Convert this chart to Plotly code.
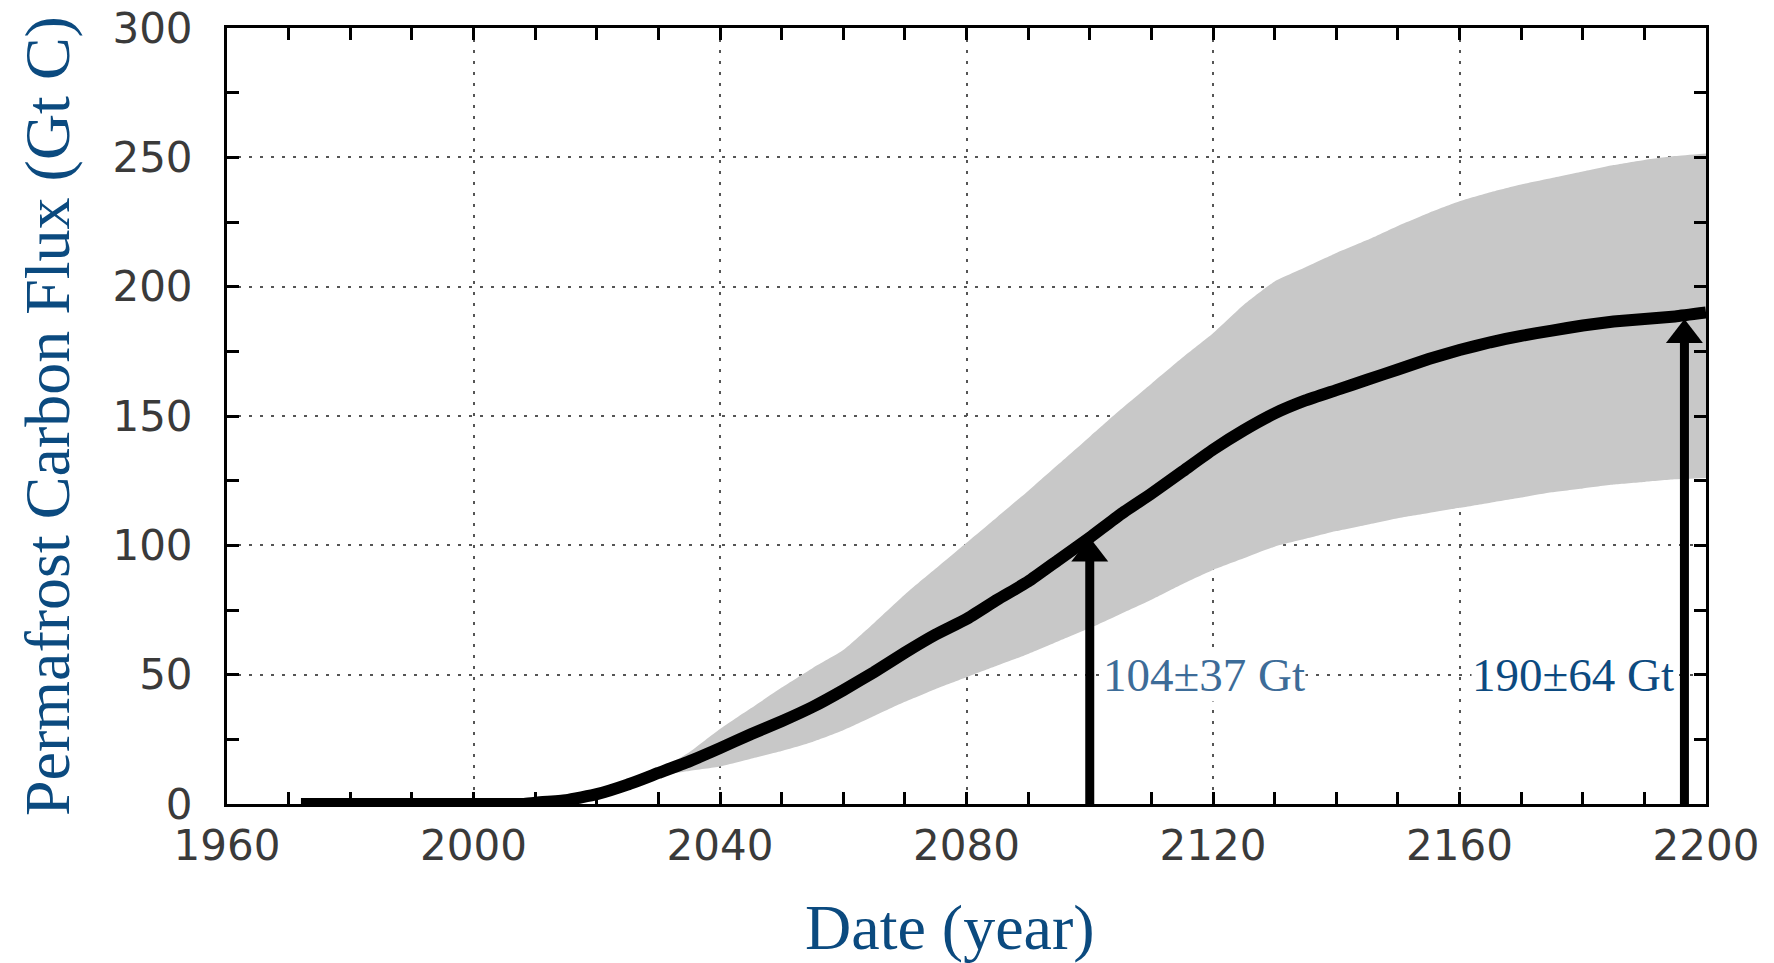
import plotly.graph_objects as go
import numpy as np

# ---- data ----
mean_years = [1972, 1980, 1990, 2000, 2008, 2010, 2015, 2020, 2025, 2030, 2035, 2040,
              2045, 2050, 2055, 2060, 2065, 2070, 2075, 2080, 2085, 2090, 2095, 2100,
              2105, 2110, 2115, 2120, 2125, 2130, 2135, 2140, 2145, 2150, 2155, 2160,
              2165, 2170, 2175, 2180, 2185, 2190, 2195, 2200]
mean_flux = [0, 0, 0, 0, 0, 0.5, 1.5, 3.8, 7.5, 12, 16.5, 21.6,
             27, 32, 37.5, 44, 51, 58.5, 65.5, 71.5, 79, 86, 94.5, 103,
             112, 120, 128.5, 137, 144.5, 151, 156, 160, 164, 168, 172, 175.5,
             178.5, 181, 183, 185, 186.5, 187.5, 188.5, 190]

band_years = [2025, 2030, 2035, 2040, 2045, 2050, 2055, 2060, 2065, 2070, 2075, 2080,
              2085, 2090, 2095, 2100, 2105, 2110, 2115, 2120, 2125, 2130, 2135, 2140,
              2145, 2150, 2155, 2160, 2165, 2170, 2175, 2180, 2185, 2190, 2195, 2200]
band_upper = [7.5, 13, 20, 29, 37, 45, 52.5, 59.5, 70, 81, 91, 101,
              111, 121, 131.5, 142, 152.5, 162.5, 172.5, 182, 193, 202, 207.5, 213,
              218, 223.5, 228.5, 233, 236.5, 239.5, 242, 244.5, 247, 249, 250.5, 251.5]
band_lower = [7.5, 11, 12.8, 14.5, 17.5, 20.5, 24, 28.5, 34, 39.5, 44.5, 49,
              53.5, 58, 63, 68, 73.5, 79, 85, 90.5, 95, 99.5, 102.5, 105.5,
              108, 110.5, 112.5, 114.5, 116.5, 118.5, 120.5, 122, 123.5, 124.5, 125.5, 126]

arrow_years = [2100, 2196.5]
arrow_tips = [103, 187.5]
arrow_labels = ["104±37 Gt", "190±64 Gt"]
label_x = [2102, 2195]
label_y = [50, 50]
label_colors = ["#3d6c98", "#0c4a80"]

x_ticks = [1960, 2000, 2040, 2080, 2120, 2160, 2200]
y_ticks = [0, 50, 100, 150, 200, 250, 300]

# ---- layout geometry ----
W, H = 1774, 963
ML, MR, MT, MB = 227, 68, 28, 159
plot_h = H - MT - MB
px_per_unit = plot_h / 300.0
tri_size = 32
tri_offset = (tri_size / 2) / px_per_unit

fig = go.Figure()

fig.add_trace(go.Scatter(x=band_years, y=band_lower, mode="lines",
                         line=dict(width=0, color="#c8c8c8", shape="spline", smoothing=0.5),
                         hoverinfo="skip", showlegend=False))
fig.add_trace(go.Scatter(x=band_years, y=band_upper, mode="lines",
                         line=dict(width=0, color="#c8c8c8", shape="spline", smoothing=0.5),
                         fill="tonexty", fillcolor="#c8c8c8", hoverinfo="skip",
                         showlegend=False))

fig.add_trace(go.Scatter(x=mean_years, y=mean_flux, mode="lines",
                         line=dict(width=12, color="black", shape="spline", smoothing=0.4),
                         showlegend=False, cliponaxis=False))

for ax_year, tip in zip(arrow_years, arrow_tips):
    fig.add_trace(go.Scatter(x=[ax_year, ax_year], y=[0, tip - tri_offset],
                             mode="lines", line=dict(width=9, color="black"),
                             showlegend=False, cliponaxis=False))
    fig.add_trace(go.Scatter(x=[ax_year], y=[tip - tri_offset], mode="markers",
                             marker=dict(symbol="triangle-up", size=tri_size, color="black",
                                         line=dict(width=0)),
                             showlegend=False))

annotations = []
for lx, ly, txt, col, anchor in zip(label_x, label_y, arrow_labels, label_colors, ["left", "right"]):
    annotations.append(dict(x=lx, y=ly, xref="x", yref="y", text=txt, showarrow=False,
                            xanchor=anchor, yanchor="middle", bgcolor="white", borderpad=0,
                            font=dict(family="Liberation Serif", size=47, color=col)))

annotations.append(dict(x=(950 - ML) / (W - ML - MR), y=(MT + plot_h - 928) / plot_h,
                        xref="paper", yref="paper", text="Date (year)", showarrow=False,
                        xanchor="center", yanchor="middle",
                        font=dict(family="Liberation Serif", size=64, color="#0b4a7f")))
annotations.append(dict(x=(47 - ML) / (W - ML - MR), y=0.5,
                        xref="paper", yref="paper", text="Permafrost Carbon Flux (Gt C)",
                        showarrow=False, textangle=-90,
                        xanchor="center", yanchor="middle",
                        font=dict(family="Liberation Serif", size=64, color="#0b4a7f")))

axis_common = dict(
    showline=True, linewidth=3, linecolor="black", mirror="allticks",
    ticks="inside", ticklen=12, tickwidth=3, tickcolor="black",
    showgrid=True, gridcolor="#555555", gridwidth=2, griddash="3px,8px",
    zeroline=False, automargin=False,
    tickfont=dict(family="DejaVu Sans", size=42, color="#3a3a3a"),
)

fig.update_layout(
    width=W, height=H, autosize=False,
    margin=dict(l=ML, r=MR, t=MT, b=MB, pad=0),
    paper_bgcolor="white", plot_bgcolor="white",
    showlegend=False,
    annotations=annotations,
    xaxis=dict(range=[1960, 2200], tickvals=x_ticks, ticktext=[str(v) for v in x_ticks],
               minor=dict(dtick=10, tick0=1960, ticks="inside", ticklen=12, tickwidth=3,
                          tickcolor="black", showgrid=False),
               ticklabelstandoff=3, **axis_common),
    yaxis=dict(range=[0, 300], tickvals=y_ticks, ticktext=[str(v) for v in y_ticks],
               minor=dict(dtick=25, tick0=0, ticks="inside", ticklen=12, tickwidth=3,
                          tickcolor="black", showgrid=False),
               ticklabelstandoff=23, **axis_common),
)

fig.write_html("out.html")
